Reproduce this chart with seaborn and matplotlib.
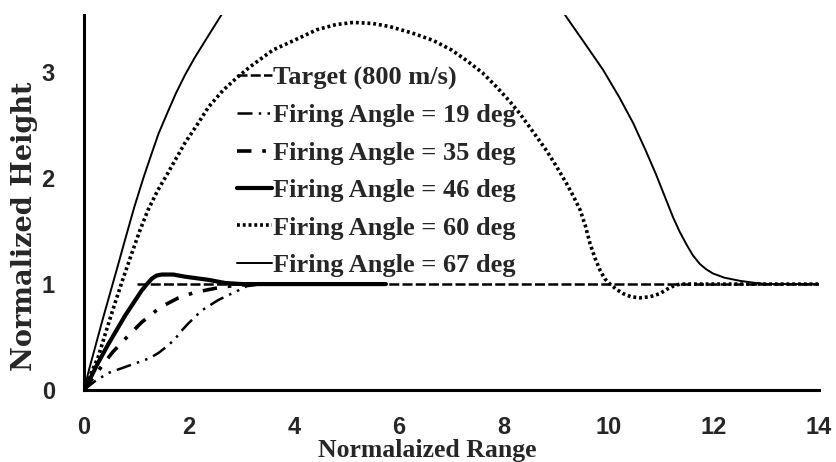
import matplotlib
matplotlib.use("Agg")
import matplotlib.pyplot as plt
import seaborn as sns
import pandas as pd

# ---- data ----
target_x = [1.0, 14.0]
target_y = [1.0, 1.0]

a19_x = [0, 0.2, 0.46, 0.97, 1.25, 1.42, 1.6, 1.73, 1.86, 1.99, 2.24, 2.56, 2.94, 3.1, 3.4]
a19_y = [0, 0.08, 0.16, 0.25, 0.3, 0.35, 0.42, 0.48, 0.56, 0.63, 0.75, 0.85, 0.94, 0.98, 1.0]

a35_x = [0, 0.3, 0.55, 0.8, 1.1, 1.45, 1.8, 2.1, 2.5, 2.9, 3.3]
a35_y = [0, 0.2, 0.36, 0.49, 0.64, 0.78, 0.87, 0.92, 0.96, 0.99, 1.0]

a46_x = [0, 0.08, 0.25, 0.46, 0.78, 1.1, 1.2, 1.29, 1.38, 1.48, 1.7, 1.92, 2.37, 2.69, 3.0, 5.75]
a46_y = [0, 0.07, 0.24, 0.43, 0.7, 0.94, 1.0, 1.05, 1.08, 1.09, 1.09, 1.07, 1.04, 1.01, 1.0, 1.0]

a60_x = [0, 0.1, 0.27, 0.43, 0.59, 0.75, 0.91, 1.06, 1.22, 1.4, 1.6, 1.92, 2.15, 2.37,
         2.65, 2.94, 3.16, 3.6, 4.0, 4.43, 4.8, 5.13, 5.5, 5.83, 6.25, 6.65, 7.0, 7.29,
         7.6, 7.86, 8.1, 8.3, 8.55, 8.81, 9.0, 9.19, 9.32, 9.45, 9.55, 9.64, 9.73, 9.83,
         9.92, 10.02, 10.14, 10.27, 10.42, 10.59, 10.78, 10.97, 11.1, 11.22, 11.35, 11.5, 14.0]
a60_y = [0, 0.12, 0.31, 0.57, 0.82, 1.06, 1.29, 1.5, 1.7, 1.88, 2.05, 2.33, 2.5, 2.67,
         2.83, 2.96, 3.05, 3.21, 3.3, 3.4, 3.45, 3.47, 3.46, 3.43, 3.37, 3.30, 3.21, 3.11,
         2.99, 2.86, 2.73, 2.61, 2.44, 2.26, 2.11, 1.95, 1.83, 1.70, 1.55, 1.38, 1.25, 1.13,
         1.05, 1.0, 0.95, 0.91, 0.88, 0.87, 0.88, 0.91, 0.95, 0.98, 1.0, 1.0, 1.0]

a67_x = [0, 0.1, 0.21, 0.33, 0.46, 0.62, 0.8, 0.96, 1.13, 1.28, 1.42, 1.6, 1.75, 1.92, 2.1,
         2.3, 2.59, 3.0, 3.5, 4.0, 4.5, 5.0, 5.5, 6.0, 6.5, 7.0, 7.5, 8.0, 8.7, 9.19, 9.5,
         9.89, 10.2, 10.46, 10.7, 10.9, 11.1, 11.22, 11.35, 11.48, 11.6, 11.73, 11.85,
         11.98, 12.2, 12.5, 12.8, 13.0, 14.0]
a67_y = [0, 0.2, 0.4, 0.62, 0.85, 1.13, 1.45, 1.73, 2.0, 2.22, 2.42, 2.63, 2.8, 2.97, 3.13,
         3.29, 3.52, 3.82, 4.12, 4.35, 4.54, 4.67, 4.74, 4.76, 4.72, 4.62, 4.47, 4.26, 3.90,
         3.52, 3.30, 3.02, 2.76, 2.52, 2.26, 2.03, 1.78, 1.63, 1.49, 1.37, 1.27, 1.19, 1.14,
         1.10, 1.06, 1.03, 1.01, 1.0, 1.0]

labels = ["Target (800 m/s)", "Firing Angle = 19 deg", "Firing Angle = 35 deg",
          "Firing Angle = 46 deg", "Firing Angle = 60 deg", "Firing Angle = 67 deg"]
x_ticks = [0, 2, 4, 6, 8, 10, 12, 14]
y_ticks = [0, 1, 2, 3]
x_label = "Normalaized Range"
y_label = "Normalized Height"

series = [(target_x, target_y), (a19_x, a19_y), (a35_x, a35_y),
          (a46_x, a46_y), (a60_x, a60_y), (a67_x, a67_y)]

styles = [
    dict(lw=1.8, linestyle=(0, (4, 1.3))),
    dict(lw=1.8, linestyle=(0, (6, 2.5, 1, 2.5, 1, 2.5))),
    dict(lw=2.6, linestyle=(0, (4, 3, 1, 3))),
    dict(lw=3.0, linestyle="-"),
    dict(lw=2.6, linestyle=(0, (0.8, 0.8))),
    dict(lw=1.4, linestyle="-"),
]

sns.set_theme(style="white")
plt.rcParams["font.family"] = ["Liberation Serif", "DejaVu Serif"]

fig = plt.figure(figsize=(8.36, 4.62), dpi=100)
ax = fig.add_axes([84 / 836, 72 / 462, 735 / 836, 375 / 462])

for (xs, ys), lab, st in zip(series, labels, styles):
    df = pd.DataFrame({"x": xs, "y": ys})
    sns.lineplot(data=df, x="x", y="y", ax=ax, color="black", label=lab,
                 sort=False, estimator=None, **st)

ax.set_xlim(0, 14)
ax.set_ylim(0, 3.54)
ax.set_xticks(x_ticks)
ax.set_yticks(y_ticks)
ax.set_xticklabels([str(t) for t in x_ticks], family="Liberation Sans", fontsize=17, fontweight="bold")
ax.set_yticklabels([str(t) for t in y_ticks], family="Liberation Sans", fontsize=17, fontweight="bold")
ax.tick_params(axis="both", direction="in", length=6, width=2, color="black")
ax.tick_params(axis="x", pad=19)
ax.tick_params(axis="y", pad=21)

for s in ["top", "right"]:
    ax.spines[s].set_visible(False)
for s in ["left", "bottom"]:
    ax.spines[s].set_color("black")
    ax.spines[s].set_linewidth(2.2)

ax.set_xlabel(x_label, fontsize=18.5, fontweight="bold")
ax.set_ylabel(y_label, fontsize=19.5, fontweight="bold", family="DejaVu Serif")
ax.xaxis.set_label_coords(0.467, -0.131)
ax.yaxis.set_label_coords(-0.062, 0.437)

leg = ax.legend(loc="upper left", bbox_to_anchor=(237 / 836, 1 - 66 / 462),
                bbox_transform=fig.transFigure, frameon=False,
                prop={"family": "Liberation Serif", "weight": "bold", "size": 19},
                handlelength=1.33, handletextpad=0.05, labelspacing=0.53,
                borderpad=0, borderaxespad=0)

fig.savefig("out.png", dpi=100, facecolor="white")
